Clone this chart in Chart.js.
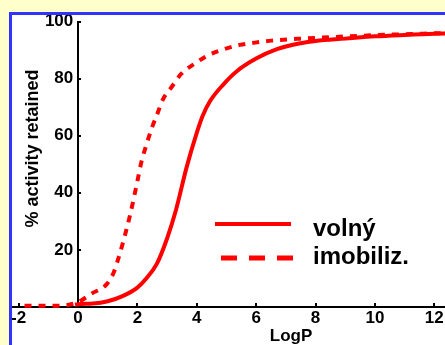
<!DOCTYPE html>
<html>
<head>
<meta charset="utf-8">
<script src="https://cdn.jsdelivr.net/npm/chart.js@4"></script>
<style>
  html, body { margin: 0; padding: 0; overflow: hidden; background: #ffffcc; }
  body { width: 445px; height: 345px; position: relative; }
  #frame {
    position: absolute; left: 9px; top: 12px; right: -200px; bottom: -50px;
    border-left: 3px solid #3333ff; border-top: 3px solid #3333ff;
    background: #fff; overflow: hidden;
  }
  #wrap { position: absolute; left: 0; top: 0; width: 558px; height: 332px; }
</style>
</head>
<body>
<div id="frame"><div id="wrap"><canvas id="activity-chart"></canvas></div></div>
<script>
// values
const logP_volny = [-0.1, 0, 0.5, 1, 1.5, 2, 2.3, 2.65, 3, 3.3, 3.66, 4, 4.2, 4.44, 4.9, 5.34, 6, 6.7, 7.5, 8, 9, 10, 11, 12, 12.5];
const pct_volny  = [0.8, 1.0, 1.2, 2.0, 3.8, 6.8, 10, 15, 24, 34, 49, 61, 67, 72, 78, 82.5, 87, 90.3, 92.4, 93.2, 94, 94.8, 95.3, 95.7, 95.8];

const logP_imob = [-1.8, -1.1, -0.55, 0, 0.46, 0.97, 1.2, 1.36, 1.5, 1.75, 2.0, 2.14, 2.31, 2.48, 2.65, 2.85, 3.15, 3.49, 3.94, 4.39, 4.89, 5.45, 5.96, 6.52, 7.5, 8.5, 10, 12.5];
const pct_imob  = [0.4, 0.4, 0.5, 1.7, 4.7, 8, 12, 17, 22, 32, 44, 51, 57, 62.5, 67, 72.5, 77, 81.8, 85.3, 88.2, 90.2, 91.8, 92.6, 93.3, 94, 94.5, 95.2, 96];

const seriesLabels = ['volný', 'imobiliz.'];
const xTitle = 'LogP';
const yTitle = '% activity retained';

const toPoints = (xs, ys) => xs.map((x, i) => ({x: x, y: ys[i]}));

Chart.defaults.font.family = '"Liberation Sans", Arial, sans-serif';
Chart.defaults.font.weight = 'bold';
Chart.defaults.font.size = 17;
Chart.defaults.color = '#000';

// y title reads bottom-to-top and sits inside the plot, so draw it here
const yTitlePlugin = {
  id: 'yTitle',
  afterDraw(chart) {
    const ctx = chart.ctx;
    const area = chart.chartArea;
    ctx.save();
    ctx.translate(21, area.top + 127);
    ctx.rotate(-Math.PI / 2);
    ctx.font = 'bold 18px "Liberation Sans", Arial, sans-serif';
    ctx.fillStyle = '#000';
    ctx.textAlign = 'center';
    ctx.textBaseline = 'middle';
    ctx.fillText(yTitle, 0, 0);
    ctx.restore();
  }
};

// legend inside the plot, lower right
const innerLegend = {
  id: 'innerLegend',
  afterDraw(chart) {
    const ctx = chart.ctx;
    const rows = [{y: 209, ty: 221}, {y: 243, ty: 249}];
    chart.data.datasets.forEach(function(ds, i) {
      ctx.save();
      ctx.strokeStyle = ds.borderColor;
      ctx.lineWidth = i === 0 ? 4 : 5;
      ctx.setLineDash(i === 0 ? [] : [16, 12]);
      ctx.beginPath();
      ctx.moveTo(i === 0 ? 203 : 209, rows[i].y);
      ctx.lineTo(i === 0 ? 279 : 281, rows[i].y);
      ctx.stroke();
      ctx.setLineDash([]);
      ctx.font = 'bold 24px "Liberation Sans", Arial, sans-serif';
      ctx.fillStyle = '#000';
      ctx.textBaseline = 'alphabetic';
      ctx.fillText(ds.label, 301, rows[i].ty);
      ctx.restore();
    });
  }
};

const ctx = document.getElementById('activity-chart').getContext('2d');
const chart = new Chart(ctx, {
  type: 'line',
  data: {
    datasets: [{
      label: seriesLabels[0],
      data: toPoints(logP_volny, pct_volny),
      borderColor: '#ff0000',
      borderWidth: 4,
      pointRadius: 0,
      cubicInterpolationMode: 'monotone',
      clip: false,
    }, {
      label: seriesLabels[1],
      data: toPoints(logP_imob, pct_imob),
      borderColor: '#ff0000',
      borderWidth: 4,
      borderDash: [7, 7],
      pointRadius: 0,
      cubicInterpolationMode: 'monotone',
      clip: false,
    }]
  },
  options: {
    responsive: true,
    maintainAspectRatio: false,
    animation: false,
    layout: { padding: { top: 6.5, left: 0, right: 0, bottom: 0 } },
    plugins: {
      legend: { display: false },
      tooltip: { enabled: false },
    },
    scales: {
      x: {
        type: 'linear',
        position: 'bottom',
        min: -2.222,
        max: 16.57,
        border: { color: '#000', width: 2 },
        grid: { drawOnChartArea: false, tickLength: -4, color: '#000', lineWidth: 2 },
        ticks: { stepSize: 2, includeBounds: false, padding: 5, maxRotation: 0 },
        title: { display: true, text: xTitle, padding: { top: 0, bottom: 0 } },
        afterFit: function(scale) {
          // plot runs right up to the frame, no room kept for edge labels
          scale.paddingLeft = 0;
          scale.paddingRight = 0;
          scale.height = 40;
        }
      },
      y: {
        type: 'linear',
        position: { x: 0 },
        min: 0,
        max: 100,
        border: { color: '#000', width: 2 },
        grid: { drawOnChartArea: false, tickLength: -4, color: '#000', lineWidth: 2 },
        ticks: {
          stepSize: 20,
          callback: function(v) { return v === 0 ? '' : v + ' '; }
        },
        title: { display: false },
        afterFit: function(scale) {
          scale.paddingTop = 0;
          scale.paddingBottom = 0;
        }
      }
    }
  },
  plugins: [yTitlePlugin, innerLegend]
});
</script>
</body>
</html>
